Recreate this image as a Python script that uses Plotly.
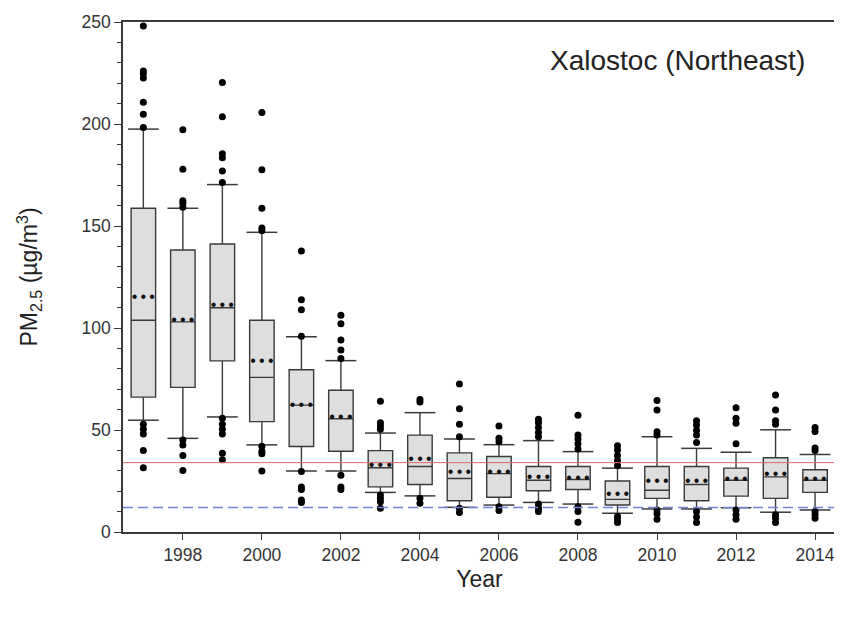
import plotly.graph_objects as go

years = list(range(1997, 2015))
q1 = [66.1, 70.9, 83.9, 54.1, 41.9, 39.6, 22.1, 23.3, 15.3, 17.0, 20.2, 20.8, 13.2, 16.5, 15.3, 17.6, 16.5, 19.4]
median = [103.8, 103.0, 109.9, 75.8, 62.2, 55.5, 31.5, 32.1, 26.2, 28.6, 25.4, 25.7, 16.0, 20.5, 23.3, 25.4, 27.0, 25.4]
mean = [114.7, 103.3, 111.0, 83.5, 61.7, 56.0, 32.6, 35.4, 28.9, 28.9, 26.5, 26.2, 18.1, 24.5, 24.5, 25.7, 27.8, 25.7]
q3 = [158.7, 138.2, 141.2, 103.8, 79.5, 69.5, 39.9, 47.5, 38.8, 37.0, 32.1, 32.1, 25.0, 32.1, 32.1, 31.3, 36.4, 30.5]
upper = [197.5, 158.7, 170.3, 146.9, 95.7, 84.0, 48.5, 58.5, 45.6, 42.8, 44.8, 39.4, 31.3, 46.7, 41.0, 39.1, 50.1, 38.0]
lower = [54.8, 45.9, 56.4, 42.7, 29.9, 29.9, 19.4, 17.7, 12.1, 13.2, 14.5, 13.7, 9.2, 11.3, 11.3, 11.9, 9.7, 10.8]

outliers = {
    1997: [248, 226, 224.6, 222.5, 210.7, 204.8, 198.3, 52.8, 50.4, 48, 39.9, 31.5],
    1998: [197.2, 177.8, 162.4, 161.1, 159.2, 45.1, 42.7, 37.5, 30.2],
    1999: [220.3, 203.5, 185.4, 183.4, 177, 171.3, 55.8, 52.8, 50.4, 48, 38.6, 35.4],
    2000: [205.6, 177.6, 158.7, 149, 147.7, 42, 39.6, 38.3, 29.9],
    2001: [137.7, 113.9, 108.9, 96, 29.7, 22.1, 20.8, 15.7, 14.5],
    2002: [106.2, 102.1, 94.1, 89.2, 85.1, 27.8, 22.1, 20.8],
    2003: [64.1, 53.6, 52, 50.4, 18.1, 16.5, 14.8, 11.6],
    2004: [65, 63.7, 16.5, 14.1],
    2005: [72.5, 60.4, 52.8, 46.7, 11.6, 9.5],
    2006: [52, 46, 44.3, 12.4, 10.5],
    2007: [55.3, 53.6, 51.2, 48.8, 46.7, 13.7, 11.6, 10],
    2008: [57.2, 47.5, 45.6, 43.2, 40.7, 12.4, 10, 4.8],
    2009: [42.3, 40.2, 37.5, 35, 32.6, 7.6, 6, 4.7],
    2010: [64.5, 59.8, 49.1, 47.5, 10.8, 8.9, 6.3],
    2011: [54.5, 52.4, 49.9, 47.5, 43.9, 10, 7.3, 4.7],
    2012: [60.9, 55.8, 53.3, 43.2, 10.8, 8.4, 6.3],
    2013: [67.1, 59.8, 54.5, 52.8, 8.4, 6.8, 4.7],
    2014: [51.2, 49.3, 41.2, 39.9, 10, 8.4, 6.8],
}

standard_red = 34
standard_blue = 12
xticks = list(range(1998, 2015, 2))

FONT = "Liberation Sans, Arial, sans-serif"
LINE = "#3a3a3a"

fig = go.Figure()

fig.add_trace(go.Box(
    x=years, q1=q1, median=median, q3=q3,
    lowerfence=lower, upperfence=upper,
    boxpoints=False, boxmean=False, width=0.62, whiskerwidth=0,
    fillcolor="#dedede", line=dict(color=LINE, width=1.4),
    showlegend=False, hoverinfo="skip",
))

# whisker caps (wider than box)
fig.add_trace(go.Scatter(
    x=years + years, y=upper + lower, mode="markers",
    marker=dict(symbol="line-ew", size=22, line=dict(color=LINE, width=1.5)),
    showlegend=False, hoverinfo="skip",
))

# mean drawn as a dotted line of three dots
fig.add_trace(go.Scatter(
    x=years, y=mean, mode="text", text=["•\u2009•\u2009•"] * len(years),
    textposition="middle center", textfont=dict(family=FONT, size=16, color="#111"),
    showlegend=False, hoverinfo="skip",
))

ox, oy = [], []
for yr in years:
    for v in outliers[yr]:
        ox.append(yr)
        oy.append(v)
fig.add_trace(go.Scatter(
    x=ox, y=oy, mode="markers",
    marker=dict(symbol="circle", size=7, color="black"),
    showlegend=False, hoverinfo="skip",
))

fig.add_shape(type="line", xref="paper", x0=0, x1=1, yref="y", y0=standard_red, y1=standard_red,
              line=dict(color="#e06a6a", width=1), layer="above")
fig.add_shape(type="line", xref="paper", x0=0, x1=1, yref="y", y0=standard_blue, y1=standard_blue,
              line=dict(color="#7383dc", width=1.5, dash="10px,5px"), layer="above")

fig.add_annotation(text="Xalostoc (Northeast)", xref="paper", yref="paper", x=0.778, y=0.925,
                   xanchor="center", yanchor="middle", showarrow=False,
                   font=dict(family=FONT, size=28, color="#222"))

fig.update_layout(
    width=834, height=615,
    margin=dict(l=115, r=4, t=9, b=91),
    paper_bgcolor="white", plot_bgcolor="white",
    font=dict(family=FONT, color="#222"),
    xaxis=dict(
        range=[1996.485, 2014.53], tickvals=xticks, ticks="outside", ticklen=6,
        tickcolor=LINE, showline=True, linecolor=LINE, linewidth=1.5, mirror=True,
        showgrid=False, zeroline=False, tickfont=dict(size=17.5, color="#333"),
        ticklabeloverflow="allow",
        title=dict(text="Year", font=dict(size=23, color="#222"), standoff=7),
    ),
    yaxis=dict(
        range=[0, 250], dtick=50, ticks="outside", ticklen=7, tickcolor=LINE,
        showline=True, linecolor=LINE, linewidth=1.5, mirror=True,
        showgrid=False, zeroline=False, tickfont=dict(size=17.5, color="#333"),
        ticklabeloverflow="allow",
        minor=dict(dtick=10, ticks="outside", ticklen=4, tickcolor=LINE, showgrid=False),
        title=dict(text="PM<sub>2.5</sub> (µg/m<sup>3</sup>)", font=dict(size=23, color="#222"), standoff=37),
    ),
)

fig.write_html("out.html")
